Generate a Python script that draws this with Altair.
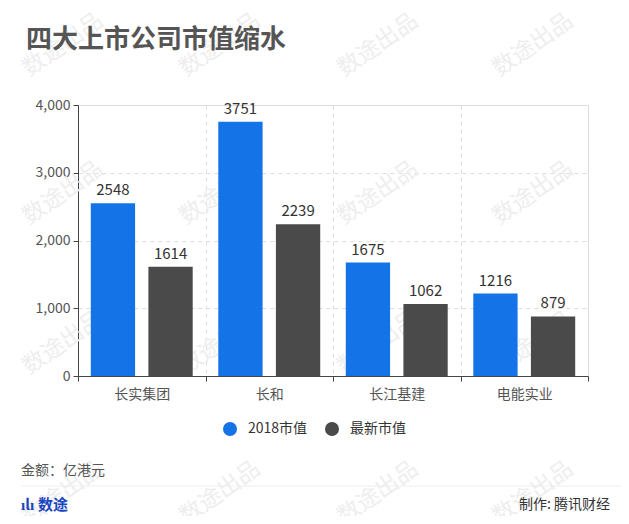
import altair as alt
import pandas as pd

companies = ["长实集团", "长和", "长江基建", "电能实业"]
series = ["2018市值", "最新市值"]
values_2018 = [2548, 3751, 1675, 1216]
values_latest = [1614, 2239, 1062, 879]
colors = ["#1473e6", "#4a4a4a"]
y_ticks = [0, 1000, 2000, 3000, 4000]

rows = []
for c, a, b in zip(companies, values_2018, values_latest):
    rows.append({"company": c, "series": series[0], "value": a})
    rows.append({"company": c, "series": series[1], "value": b})
df = pd.DataFrame(rows)

FONT = "Noto Sans CJK SC"
W, H = 510, 271

x_enc = alt.X("company:N", sort=companies,
              scale=alt.Scale(paddingInner=0, paddingOuter=0),
              axis=alt.Axis(title=None, labelAngle=0, labelFontSize=14, labelColor="#555",
                            labelPadding=6, tickBand="extent", grid=True,
                            gridDash=[4, 4], gridColor="#dddddd", domainColor="#444",
                            tickColor="#444", tickSize=5, labelFont=FONT))
xo_enc = alt.XOffset("series:N", sort=series,
                     scale=alt.Scale(paddingInner=0.231, paddingOuter=0.222))
y_enc = alt.Y("value:Q", scale=alt.Scale(domain=[0, 4000], nice=False),
              axis=alt.Axis(title=None, values=y_ticks, format=",.0f", labelFontSize=14,
                            labelColor="#555", grid=True, gridDash=[4, 4],
                            gridColor="#dddddd", domainColor="#444", tickColor="#444",
                            tickSize=5, labelPadding=3, labelFont=FONT))

def deco(text, x, y, size, color, weight="normal", align="left", angle=0, baseline="middle"):
    props = dict(text=text, fontSize=size, color=color, fontWeight=weight, align=align,
                 baseline=baseline, font=FONT)
    if angle:
        props["angle"] = angle
    return alt.Chart(alt.Data(values=[{}])).mark_text(**props).encode(
        x=alt.value(x), y=alt.value(y))

# watermarks
wm_x = [-15, 142, 300, 455]
wm_y = [-60, 88, 238, 388]
watermarks = [deco("数途出品", wx, wy, 23, "#eeeeee", angle=325, align="center")
              for wy in wm_y for wx in wm_x]

bars = alt.Chart(df).mark_bar().encode(
    x=x_enc, xOffset=xo_enc, y=y_enc,
    color=alt.Color("series:N", sort=series,
                    scale=alt.Scale(domain=series, range=colors),
                    legend=alt.Legend(title=None, orient="none", legendX=145, legendY=317,
                                      direction="horizontal", symbolType="circle",
                                      symbolSize=196, symbolStrokeWidth=0,
                                      labelFontSize=14, labelColor="#333",
                                      labelOffset=11, columnPadding=17, labelFont=FONT)),
)

labels = alt.Chart(df).mark_text(baseline="bottom", dy=-5, fontSize=15, color="#333",
                                 font=FONT).encode(
    x=alt.X("company:N", sort=companies), xOffset=alt.XOffset("series:N", sort=series),
    y="value:Q", text=alt.Text("value:Q", format="d"))

title = deco("四大上市公司市值缩水", -52, -65, 26, "#555555", weight="bold")
unit = deco("金额：亿港元", -57, 366, 14, "#555555")
sep = alt.Chart(alt.Data(values=[{}])).mark_rule(color="#eeeeee", strokeWidth=1).encode(
    x=alt.value(-57), x2=alt.value(543), y=alt.value(381))
logo_icon = deco("ılı", -57, 400, 15, "#1a45c0", weight="bold")
logo = deco("数途", -40, 400, 15, "#1a45c0", weight="bold")
credit = deco("制作: 腾讯财经", 532, 400, 14, "#333333", align="right")

chart = alt.layer(*watermarks, bars, labels, title, unit, sep, logo_icon, logo, credit).properties(
    width=W, height=H,
    autosize=alt.AutoSizeParams(type="none"),
    padding={"left": 70, "top": 97, "right": 33, "bottom": 140},
).configure_view(stroke=None).configure(font=FONT)

chart.save("out.html", embed_options={"renderer": "svg", "actions": False})
